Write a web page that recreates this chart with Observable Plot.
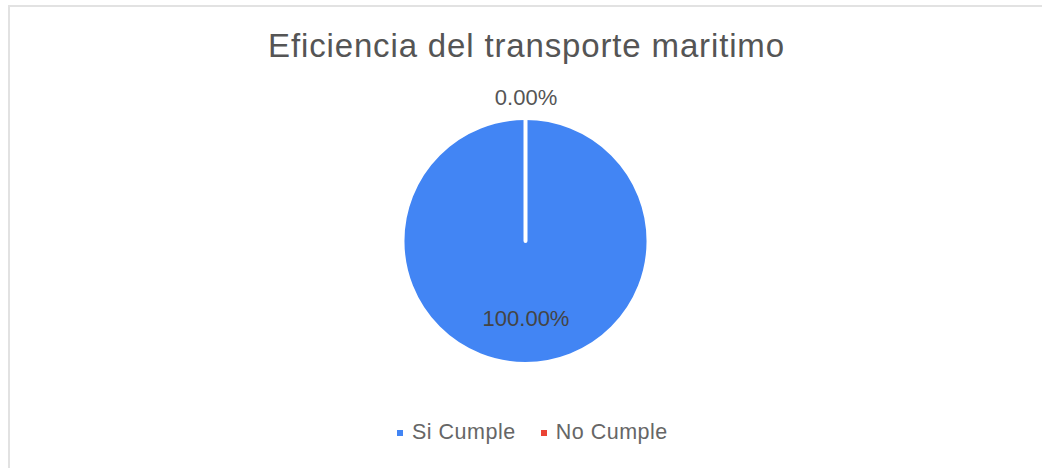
<!DOCTYPE html>
<html>
<head>
<meta charset="utf-8">
<script src="https://cdn.jsdelivr.net/npm/d3@7"></script>
<script src="https://cdn.jsdelivr.net/npm/@observablehq/plot@0.6"></script>
<style>
  html, body { margin: 0; padding: 0; width: 1042px; height: 468px; overflow: hidden; background: #fff; }
  #frame { position: absolute; left: 8px; top: 5px; width: 1100px; height: 500px;
           border-top: 2px solid #e2e2e2; border-left: 2px solid #e2e2e2; box-sizing: border-box; }
  #chart { position: absolute; left: 0; top: 0; }
  #title { position: absolute; left: 0; width: 1053px; top: 29px; text-align: center;
           font-family: "Liberation Sans", Arial, sans-serif; font-size: 33px; line-height: 33px;
           letter-spacing: 0.85px; color: #555; }
  #legend { position: absolute; left: 397px; top: 416px; }
  .lg-swatch { margin-right: 25px !important; color: #666; letter-spacing: 0.5px; }
  .lg-swatch > svg { margin-right: 9px !important; }
</style>
</head>
<body>
<div id="frame"></div>
<div id="chart"></div>
<div id="title">Eficiencia del transporte maritimo</div>
<div id="legend"></div>
<script>
// ---- data ----
const categories = ["Si Cumple", "No Cumple"];
const values = [100, 0];

const colorRange = ["#4285F4", "#EA4335"];
const total = d3.sum(values);
const pie = d3.pie().sort(null).value(d => d.value);
const arcs = pie(categories.map((c, i) => ({category: c, value: values[i]})));

const labels = arcs.map(a => {
  const mid = (a.startAngle + a.endAngle) / 2;
  const share = a.data.value / total;
  const k = share < 0.05 ? 1.165 : 0.63;
  return {
    x: Math.sin(mid) * k,
    y: -Math.cos(mid) * k,
    text: (share * 100).toFixed(2) + "%",
    inside: share >= 0.05
  };
});

const cx = 525.5, cy = 241, r = 123;

function pieMark(index, scales, values, dimensions, context) {
  const x0 = scales.x(0), y0 = scales.y(0);
  const rad = scales.x(1) - scales.x(0);
  const arcGen = d3.arc().innerRadius(0).outerRadius(rad);
  const g = d3.create("svg:g").attr("transform", `translate(${x0},${y0})`);
  g.selectAll("path")
    .data(arcs)
    .join("path")
    .attr("d", arcGen)
    .attr("fill", d => scales.color(d.data.category))
    .attr("stroke", "#fff")
    .attr("stroke-width", 4)
    .attr("stroke-linejoin", "round");
  return g.node();
}

const chart = Plot.plot({
  width: 1042,
  height: 468,
  margin: 0,
  x: {domain: [-1, 1], range: [cx - r, cx + r], axis: null},
  y: {domain: [-1, 1], range: [cy - r, cy + r], axis: null},
  color: {type: "ordinal", domain: categories, range: colorRange},
  style: {background: "transparent", fontFamily: "'Liberation Sans', Arial, sans-serif"},
  marks: [
    pieMark,
    Plot.text(labels.filter(d => !d.inside), {x: "x", y: "y", text: "text", fontSize: 22, fill: "#555"}),
    Plot.text(labels.filter(d => d.inside), {x: "x", y: "y", text: "text", fontSize: 22, fill: "#444"})
  ]
});
document.getElementById("chart").appendChild(chart);

const legend = Plot.legend({
  color: {type: "ordinal", domain: categories, range: colorRange},
  legend: "swatches",
  swatchSize: 6,
  className: "lg",
  style: {fontFamily: "'Liberation Sans', Arial, sans-serif", fontSize: "21.5px", color: "#666"}
});
document.getElementById("legend").appendChild(legend);
</script>
</body>
</html>
